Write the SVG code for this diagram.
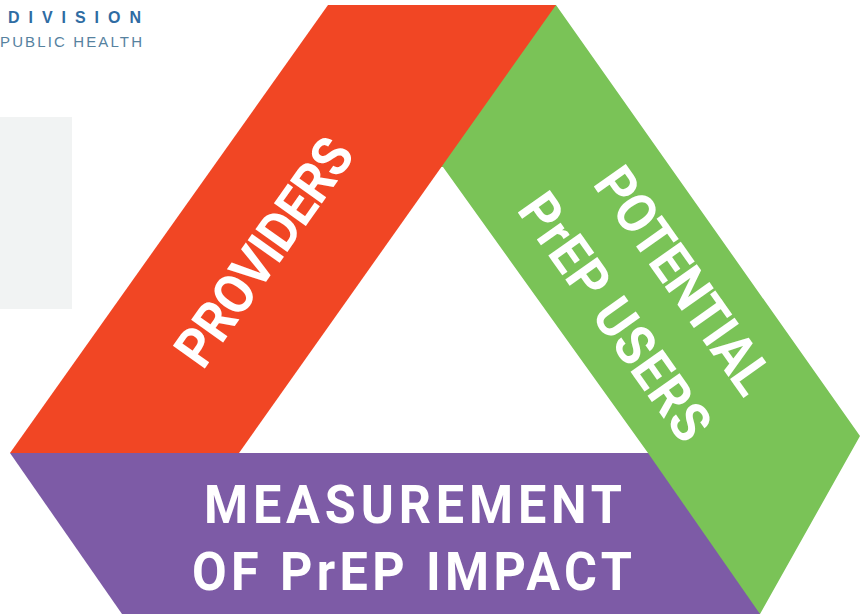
<svg xmlns="http://www.w3.org/2000/svg" width="860" height="614" viewBox="0 0 860 614">
<style>
.w{fill:#fff;font-family:Roboto,"Liberation Sans",sans-serif;font-weight:700;font-size:53px}
.r{font-size:55px}
.d{font-family:"Liberation Sans",Arial,sans-serif;fill:#2f6ca3;font-weight:700;font-size:16px}
.p{font-family:"Liberation Sans",Arial,sans-serif;fill:#56829f;font-size:15px}
</style>
<rect width="860" height="614" fill="#fff"/>
<g id="logo">
<text class="d" x="8" y="23" textLength="133">DIVISION</text>
<text class="p" x="0" y="47" textLength="142">PUBLIC HEALTH</text>
</g>
<rect id="panel" x="0" y="117" width="72" height="192" fill="#f1f3f3"/>
<g id="potential-prep-users">
<polygon points="556,5 860,436 760,614 740,614 640,460 648,453 443,167 430,167 545,5" fill="#7ac357"/>
<text class="w r" transform="translate(592,184) rotate(54.7) scale(.92,1)" textLength="286" lengthAdjust="spacing">POTENTIAL</text>
<text class="w r" transform="translate(516,210) rotate(54.7) scale(.92,1)" textLength="314" lengthAdjust="spacing">PrEP USERS</text>
</g>
<g id="providers">
<polygon points="328,5 556,5 239,453 10,453" fill="#f14624"/>
<text class="w r" transform="translate(203,371) rotate(-54.7) scale(.92,1)" textLength="288" lengthAdjust="spacing">PROVIDERS</text>
</g>
<g id="measurement">
<polygon points="10,453 648,453 760,614 122,614" fill="#7d5ba6"/>
<text class="w" transform="translate(204,523) scale(.95,1)" textLength="440" lengthAdjust="spacing">MEASUREMENT</text>
<text class="w" transform="translate(192,590) scale(.95,1)" textLength="463" lengthAdjust="spacing">OF PrEP IMPACT</text>
</g>
<g id="connectors"/>
</svg>
